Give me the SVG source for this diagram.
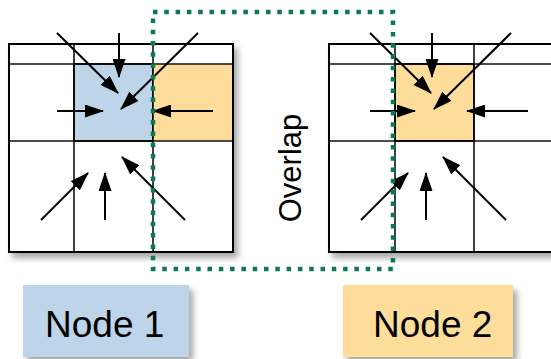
<svg xmlns="http://www.w3.org/2000/svg" width="551" height="359" viewBox="0 0 551 359">
<defs>
<filter id="sh" x="-10%" y="-10%" width="130%" height="130%">
<feDropShadow dx="4" dy="5" stdDeviation="3" flood-color="#000" flood-opacity="0.35"/>
</filter>
<marker id="ah" viewBox="0 0 19 13" refX="18" refY="6.5" markerWidth="19" markerHeight="13" markerUnits="userSpaceOnUse" orient="auto">
<path d="M0,0 L19,6.5 L0,13 z" fill="#000"/>
</marker>
<style>
.grid{fill:#fff;stroke:#000;stroke-width:2}
.ln{stroke:#111;stroke-width:1.6;fill:none}
.blue{fill:#bdd4e9}
.orange{fill:#fedd9b}
.cell{stroke:#000;stroke-width:2}
.arr{stroke:#000;stroke-width:2;fill:none;marker-end:url(#ah)}
.lbl{font-family:"Liberation Sans",Arial,sans-serif;fill:#000}
.ov{fill:none;stroke:#0d7a4e;stroke-width:4.5;stroke-dasharray:4.5 6.8}
</style>
</defs>
<g id="grid1">
<rect class="grid" x="9" y="44" width="224" height="208" filter="url(#sh)"/>
<rect class="blue cell" x="74" y="64" width="79" height="77"/>
<rect class="orange" x="153" y="64" width="80" height="77"/>
<line class="ln" x1="9" y1="64" x2="233" y2="64"/>
<line class="ln" x1="9" y1="141" x2="233" y2="141"/>
<line class="ln" x1="74" y1="44" x2="74" y2="252"/>
<line class="ln" x1="153" y1="44" x2="153" y2="252"/>
<rect x="9" y="44" width="224" height="208" fill="none" stroke="#000" stroke-width="2"/>
</g>
<g id="grid2">
<rect class="grid" x="329" y="44" width="230" height="208" filter="url(#sh)"/>
<rect class="orange cell" x="395" y="64" width="79" height="77"/>
<line class="ln" x1="329" y1="64" x2="560" y2="64"/>
<line class="ln" x1="329" y1="141" x2="560" y2="141"/>
<line class="ln" x1="395" y1="44" x2="395" y2="252"/>
<line class="ln" x1="474" y1="44" x2="474" y2="252"/>
<rect x="329" y="44" width="230" height="208" fill="none" stroke="#000" stroke-width="2"/>
</g>
<g id="connectors">
<line class="arr" x1="57" y1="33" x2="118" y2="93"/>
<line class="arr" x1="119" y1="33" x2="119" y2="77"/>
<line class="arr" x1="198" y1="33" x2="121" y2="109"/>
<line class="arr" x1="57" y1="111" x2="103" y2="111"/>
<line class="arr" x1="213" y1="111" x2="153" y2="111"/>
<line class="arr" x1="41" y1="220" x2="88" y2="173"/>
<line class="arr" x1="105" y1="220" x2="105" y2="173"/>
<line class="arr" x1="185" y1="220" x2="122" y2="157"/>
<line class="arr" x1="370" y1="33" x2="431" y2="93"/>
<line class="arr" x1="432" y1="33" x2="432" y2="77"/>
<line class="arr" x1="511" y1="33" x2="434" y2="109"/>
<line class="arr" x1="370" y1="111" x2="415" y2="111"/>
<line class="arr" x1="528" y1="111" x2="467" y2="111"/>
<line class="arr" x1="361" y1="220" x2="408" y2="173"/>
<line class="arr" x1="426" y1="220" x2="426" y2="173"/>
<line class="arr" x1="506" y1="220" x2="443" y2="157"/>
</g>
<g id="overlap">
<rect class="ov" x="153" y="12" width="240" height="257"/>
<text class="lbl" font-size="31" text-anchor="middle" transform="translate(301,168) rotate(-90)">Overlap</text>
</g>
<g id="node1">
<rect class="blue" x="23" y="285" width="166" height="72" filter="url(#sh)"/>
<text class="lbl" x="45" y="337" font-size="37">Node 1</text>
</g>
<g id="node2">
<rect class="orange" x="343" y="285" width="170" height="72" filter="url(#sh)"/>
<text class="lbl" x="373" y="337" font-size="37">Node 2</text>
</g>
</svg>
